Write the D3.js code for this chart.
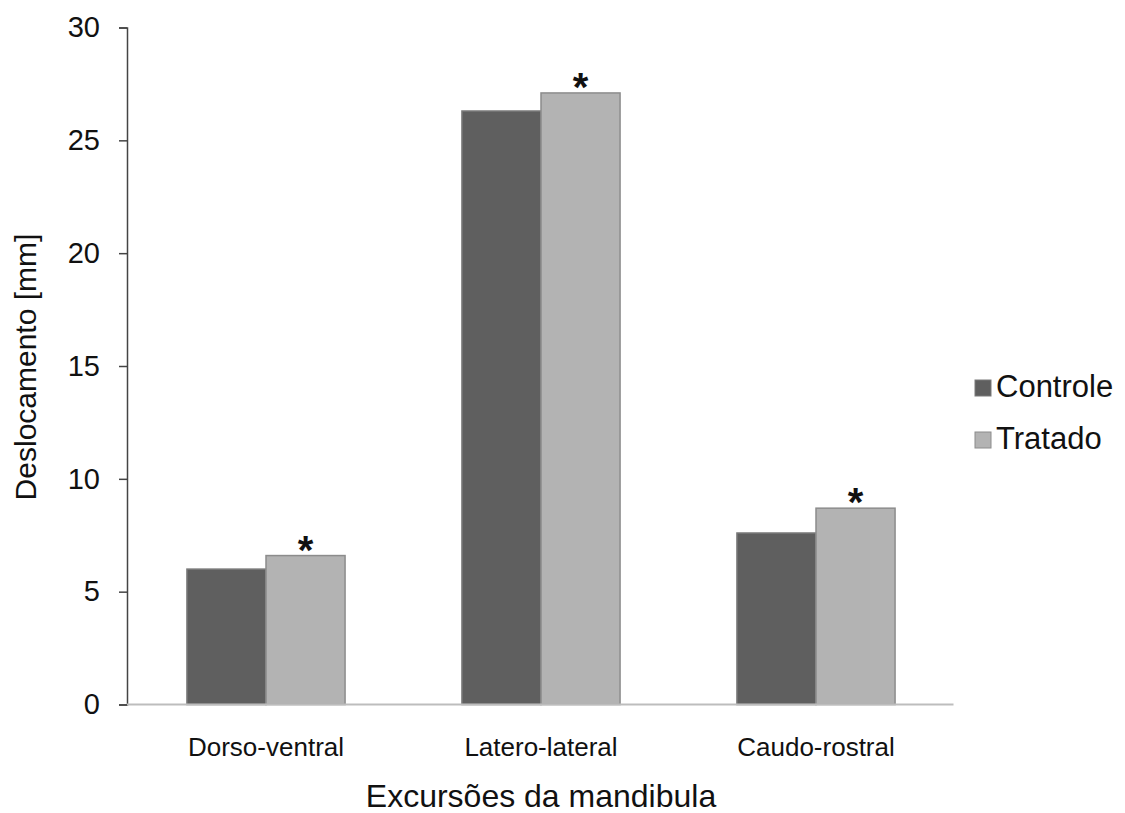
<!DOCTYPE html>
<html>
<head>
<meta charset="utf-8">
<script src="https://cdn.jsdelivr.net/npm/d3@7"></script>
<style>
  body { margin: 0; background: #fff; }
  text { font-family: "Liberation Sans", Arial, sans-serif; fill: #111; }
</style>
</head>
<body>
<div id="chart"></div>
<script>
// Daten
const categories = ['Dorso-ventral', 'Latero-lateral', 'Caudo-rostral'];
const seriesNames = ['Controle', 'Tratado'];
const controle = [6.0, 26.3, 7.6];
const tratado  = [6.6, 27.1, 8.7];
const significant = [true, true, true];
const yTicks = [0, 5, 10, 15, 20, 25, 30];
const colors = ['#5f5f5f', '#b3b3b3'];
const strokes = ['#7a7a7a', '#8c8c8c'];

const W = 1125, H = 813;
const svg = d3.select('#chart').append('svg')
  .attr('width', W).attr('height', H);

const x = d3.scaleBand().domain(categories)
  .range([128.5, 953.5]).paddingInner(0.425).paddingOuter(0.2125);
const xs = d3.scaleBand().domain(seriesNames).range([0, x.bandwidth()]);
const y = d3.scaleLinear().domain([0, 30]).range([704.5, 27.5]);

// y-Achse
const yAxis = svg.append('g')
  .attr('transform', 'translate(127,0)')
  .call(d3.axisLeft(y).tickValues(yTicks).tickSize(8).tickPadding(19));
yAxis.select('.domain').attr('stroke', '#444').attr('stroke-width', 1.5);
yAxis.selectAll('.tick line').attr('stroke', '#444').attr('stroke-width', 1.5);
yAxis.selectAll('.tick text').attr('font-size', 29).attr('fill', '#111')
  .attr('font-family', '"Liberation Sans", Arial, sans-serif');

// Balken
const rows = categories.map((c, i) => ({ c, vals: [controle[i], tratado[i]], sig: significant[i] }));
const g = svg.selectAll('g.grp').data(rows).enter().append('g')
  .attr('class', 'grp')
  .attr('transform', d => `translate(${x(d.c)},0)`);

g.selectAll('rect').data(d => d.vals.map((v, j) => ({ v, j }))).enter().append('rect')
  .attr('x', d => xs(seriesNames[d.j]))
  .attr('width', xs.bandwidth())
  .attr('y', d => y(d.v))
  .attr('height', d => y(0) - y(d.v))
  .attr('fill', d => colors[d.j])
  .attr('stroke', d => strokes[d.j])
  .attr('stroke-width', 1.5);

g.filter(d => d.sig).append('text')
  .attr('x', xs('Tratado') + xs.bandwidth() / 2)
  .attr('y', d => y(d.vals[1]) + 8)
  .attr('text-anchor', 'middle')
  .attr('font-size', 40).attr('font-weight', 'bold')
  .text('*');

// x-Achse (Grundlinie)
svg.append('line')
  .attr('x1', 127).attr('x2', 953.5)
  .attr('y1', y(0)).attr('y2', y(0))
  .attr('stroke', '#bdbdbd').attr('stroke-width', 2);

svg.selectAll('text.cat').data(categories).enter().append('text')
  .attr('class', 'cat')
  .attr('x', d => x(d) + x.bandwidth() / 2)
  .attr('y', 756)
  .attr('text-anchor', 'middle')
  .attr('font-size', 26)
  .text(d => d);

// Achsentitel
svg.append('text')
  .attr('x', 541).attr('y', 807)
  .attr('text-anchor', 'middle')
  .attr('font-size', 32)
  .text('Excursões da mandibula');

svg.append('text')
  .attr('transform', 'translate(36,367) rotate(-90)')
  .attr('text-anchor', 'middle')
  .attr('font-size', 30)
  .text('Deslocamento [mm]');

// Legende
const legend = svg.append('g').attr('transform', 'translate(975,380)');
seriesNames.forEach((s, i) => {
  legend.append('rect')
    .attr('x', 0).attr('y', i * 52)
    .attr('width', 16).attr('height', 16)
    .attr('fill', colors[i]).attr('stroke', strokes[i]);
  legend.append('text')
    .attr('x', 21).attr('y', i * 52 + 17)
    .attr('font-size', 31)
    .text(s);
});
</script>
</body>
</html>
